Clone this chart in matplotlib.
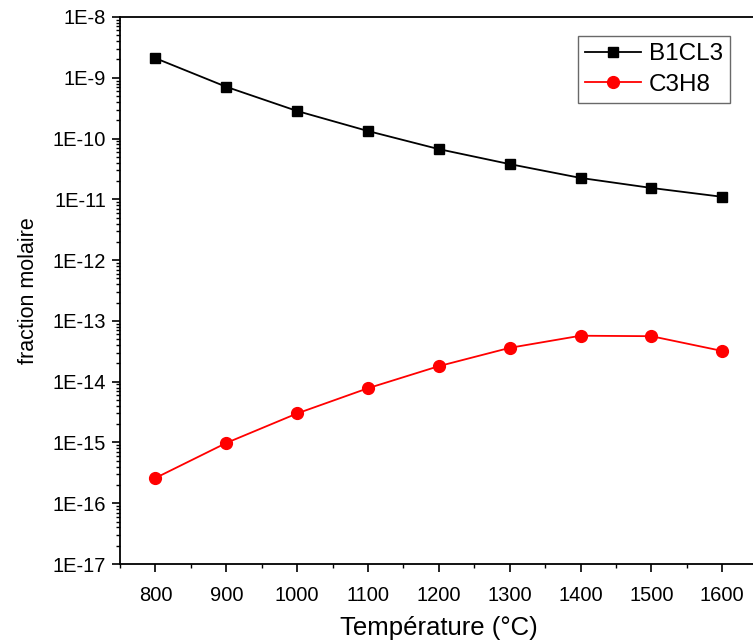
import matplotlib
matplotlib.use("Agg")
import matplotlib.pyplot as plt
from matplotlib.ticker import FixedLocator, FuncFormatter, LogLocator, MultipleLocator, NullFormatter
import numpy as np

plt.rcParams['font.family'] = ['Liberation Sans', 'DejaVu Sans']

temperature = [800, 900, 1000, 1100, 1200, 1300, 1400, 1500, 1600]
b1cl3 = [2.1e-9, 7.1e-10, 2.84e-10, 1.33e-10, 6.7e-11, 3.8e-11, 2.25e-11, 1.54e-11, 1.1e-11]
c3h8 = [2.6e-16, 9.8e-16, 3.0e-15, 7.8e-15, 1.8e-14, 3.6e-14, 5.7e-14, 5.6e-14, 3.2e-14]
x_ticks = [800, 900, 1000, 1100, 1200, 1300, 1400, 1500, 1600]

fig = plt.figure(figsize=(7.53, 6.42), dpi=100)
ax = fig.add_axes([120/753, 78/642, 900*0.7085/753, 547/642])

ax.plot(temperature, b1cl3, color='black', marker='s', markersize=7.5, linewidth=1.3, label='B1CL3')
ax.plot(temperature, c3h8, color='red', marker='o', markersize=8.5, linewidth=1.3, label='C3H8')

ax.set_yscale('log')
ax.set_ylim(1e-17, 1e-8)
ax.set_xlim(750, 1650)

ax.yaxis.set_major_locator(FixedLocator([10.0**k for k in range(-17, -7)]))
ax.yaxis.set_major_formatter(FuncFormatter(lambda v, p: "1E%d" % int(round(np.log10(v)))))
ax.yaxis.set_minor_locator(LogLocator(base=10, subs=np.arange(2, 10), numticks=100))
ax.yaxis.set_minor_formatter(NullFormatter())

ax.xaxis.set_major_locator(FixedLocator(x_ticks))
ax.xaxis.set_minor_locator(MultipleLocator(50))

ax.tick_params(which='major', direction='out', length=6, width=1.2, labelsize=14.5, top=False, right=False)
ax.tick_params(axis='x', which='major', pad=10)
ax.tick_params(axis='y', which='major', pad=4)
ax.tick_params(which='minor', direction='out', length=3, width=1.0, top=False, right=False)
for s in ax.spines.values():
    s.set_linewidth(1.3)

ax.set_xlabel('Température (°C)', fontsize=18.5, labelpad=8)
ax.set_ylabel('fraction molaire', fontsize=15.5, labelpad=10)

leg = ax.legend(loc='upper right', bbox_to_anchor=(730/753, 1 - 36/642), bbox_transform=fig.transFigure,
                fontsize=17.5, frameon=True, fancybox=False, edgecolor='#444444',
                handlelength=2.3, borderpad=0.3, labelspacing=0.35, handletextpad=0.3, borderaxespad=0)
leg.get_frame().set_linewidth(1.0)

fig.savefig('out.png', dpi=100)
